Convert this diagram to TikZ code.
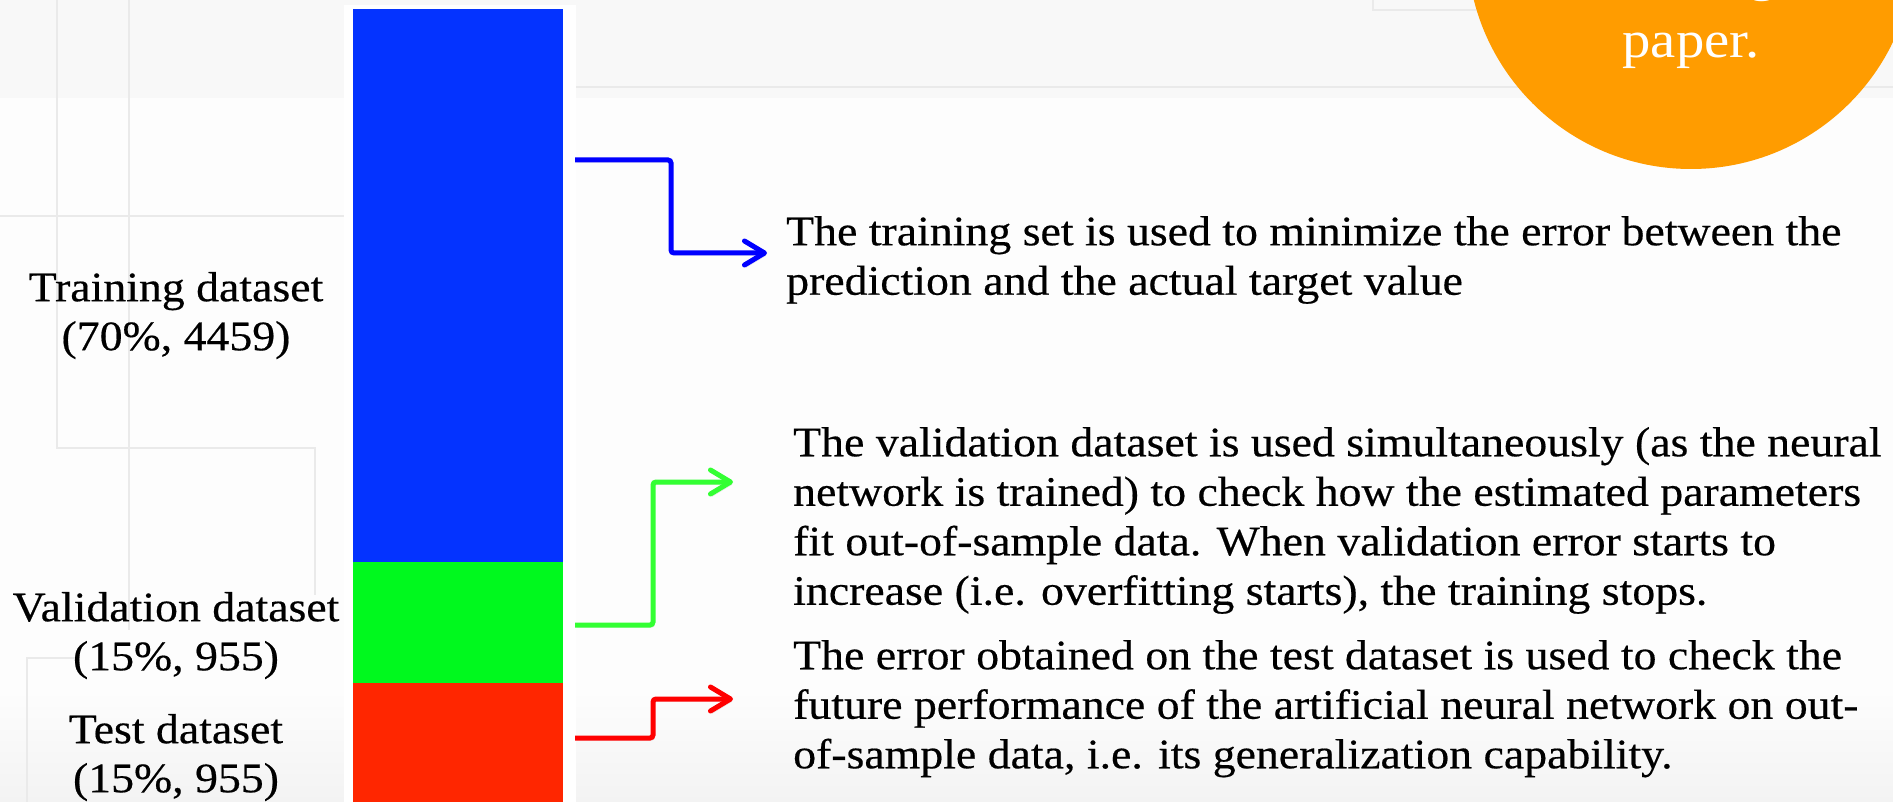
\documentclass[tikz,border=0pt]{standalone}
\usepackage{fontspec}
\newfontfamily\bodyfont{Liberation Serif}[FakeStretch=1.09,FakeBold=0.4,Ligatures=NoCommon]
\newfontfamily\badgefont{Liberation Serif}[FakeStretch=1.09,Ligatures=NoCommon]
\usetikzlibrary{arrows.meta}

\definecolor{bgwhite}{HTML}{FDFDFD}
\definecolor{bgtop}{HTML}{F8F8F8}
\definecolor{bgbottom}{HTML}{F3F3F3}
\definecolor{guidegrey}{HTML}{EAEAEA}
\definecolor{barblue}{HTML}{0433FF}
\definecolor{bargreen}{HTML}{00F91E}
\definecolor{barred}{HTML}{FF2600}
\definecolor{linkblue}{HTML}{0000FF}
\definecolor{linkgreen}{HTML}{33FF33}
\definecolor{linkred}{HTML}{FF0000}
\definecolor{badgeorange}{HTML}{FF9C00}

\begin{document}
\begin{tikzpicture}[x=1pt,y=-1pt,
  guide/.style={draw=guidegrey, line width=2pt},
  seg/.style={draw=none, inner sep=0pt, minimum width=210pt, anchor=north},
  setlabel/.style={font=\bodyfont\fontsize{42}{49}\selectfont, align=center,
    inner sep=0pt, anchor=north},
  para/.style={font=\bodyfont\fontsize{42}{49.5}\selectfont, align=left,
    inner sep=0pt, anchor=north west},
  badgetext/.style={font=\badgefont\fontsize{52}{60}\selectfont, text=white,
    inner sep=0pt, anchor=base},
  link/.style={line width=5pt, rounded corners=3pt,
    -{Straight Barb[length=20pt,width=24pt,round]},
    preaction={draw=black, opacity=0.12,
      transform canvas={shift={(1.5pt,-2.5pt)}}}}]

\useasboundingbox (0,0) rectangle (1893,802);
\clip (0,0) rectangle (1893,802);

% page background
\fill[bgwhite] (0,0) rectangle (1893,802);
\fill[bgtop] (0,0) rectangle (1893,98);
\shade[top color=bgwhite, bottom color=bgbottom] (0,690) rectangle (1893,802);

% faint layout guides
\draw[guide] (576,87) -- (1893,87);
\draw[guide] (0,216) -- (344,216);
\draw[guide] (57,0) -- (57,448) -- (315,448) -- (315,595);
\draw[guide] (128.5,0) -- (128.5,630);
\draw[guide] (75,658) -- (27,658) -- (27,802);
\draw[guide] (1373,0) -- (1373,10) -- (1893,10);

% white panel behind the split bar
\fill[white] (344,5) rectangle (576,802);

% the split bar
\node[seg, fill=barblue, minimum height=553pt] (trainbar) at (458,9) {};
\node[seg, fill=bargreen, minimum height=121pt] (valbar) at (458,562) {};
\node[seg, fill=barred, minimum height=122pt] (testbar) at (458,683) {};

% labels of the three parts
\node[setlabel] (trainlbl) at (176,266.7) {\strut Training dataset\\(70\%, 4459)};
\node[setlabel] (vallbl) at (176,586.7) {\strut Validation dataset\\(15\%, 955)};
\node[setlabel] (testlbl) at (176,708.7) {\strut Test dataset\\(15\%, 955)};

% explanations
\node[para] (traintxt) at (786,210.4) {\strut The training set is used to minimize the error between the\\
  prediction and the actual target value};
\node[para] (valtxt) at (793,421.4) {\strut The validation dataset is used simultaneously (as the neural\\
  network is trained) to check how the estimated parameters\\
  fit out-of-sample data. When validation error starts to\\
  increase (i.e. overfitting starts), the training stops.};
\node[para] (testtxt) at (793,634.4) {\strut The error obtained on the test dataset is used to check the\\
  future performance of the artificial neural network on out-\\
  of-sample data, i.e. its generalization capability.};

% connectors from the bar to the explanations
\coordinate (bs) at (575,160);
\coordinate (bk) at (671,253);
\coordinate (bt) at ([xshift=-19pt]traintxt.west |- bk);
\draw[link, draw=linkblue] (bs) -| (bk) -- (bt);

\coordinate (gs) at (575,625);
\coordinate (gk) at (653,482);
\coordinate (gt) at ([xshift=-60pt]valtxt.west |- gk);
\draw[link, draw=linkgreen] (gs) -| (gk) -- (gt);

\coordinate (rs) at (575,738);
\coordinate (rk) at (653,699);
\coordinate (rt) at ([xshift=-60pt]testtxt.west |- rk);
\draw[link, draw=linkred] (rs) -| (rk) -- (rt);

% orange badge in the corner
\node[circle, fill=badgeorange, minimum size=448pt, inner sep=0pt] (badge) at (1691,-55) {};
\node[badgetext] (badgeg) at (1763,-9) {g};
\node[badgetext] (badgeword) at (1691,58) {paper.};
\end{tikzpicture}
\end{document}
